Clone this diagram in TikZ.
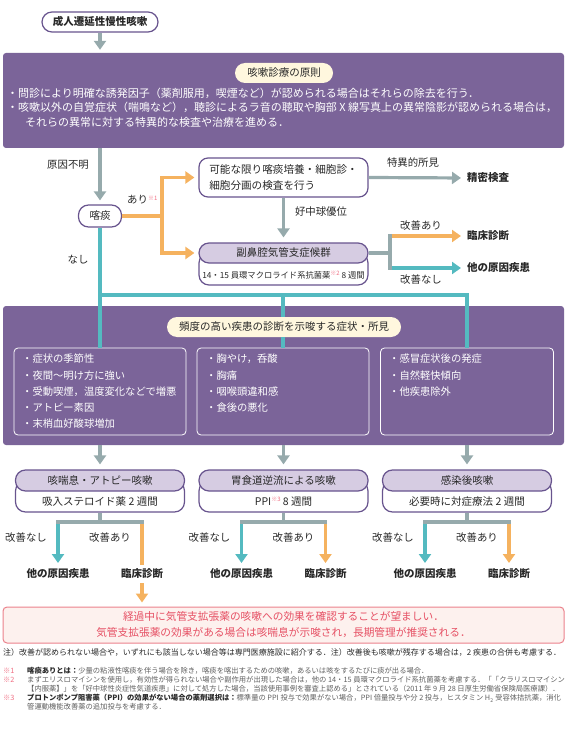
\documentclass[tikz,border=0pt]{standalone}
\usepackage{fontspec}
\setmainfont{Noto Sans CJK JP}
\usetikzlibrary{arrows.meta}
\definecolor{pu}{RGB}{123,100,153}
\definecolor{pb}{RGB}{104,84,142}
\definecolor{ph}{RGB}{214,204,226}
\definecolor{cr}{RGB}{255,247,222}
\definecolor{gy}{RGB}{150,170,172}
\definecolor{og}{RGB}{245,178,95}
\definecolor{tl}{RGB}{84,186,192}
\definecolor{pkf}{RGB}{253,241,238}
\definecolor{pkb}{RGB}{235,130,140}
\definecolor{pkt}{RGB}{230,80,100}
\definecolor{pks}{RGB}{240,110,130}
\definecolor{tx}{RGB}{40,40,40}
\definecolor{fn}{RGB}{95,95,95}
\newcommand\fsz[2]{\fontsize{#1}{#2}\selectfont}
\newcommand\supmark[1]{\raisebox{3.5pt}{\textcolor{pks}{\fsz{6}{6}#1}}}
\tikzset{
 lab/.style={inner sep=0pt, text height=9pt, text depth=1.3pt, text=tx, font=\fsz{10.4}{12}},
 blab/.style={lab, font=\fsz{10.5}{12}\bfseries},
 wt/.style={inner sep=0pt, text height=9pt, text depth=1.3pt, text=white, font=\fsz{10.3}{12}, anchor=west},
 pbox/.style={fill=pu, rounded corners=3pt, inner sep=0pt},
 pill/.style={draw=pb, line width=1.2pt, fill=white, rounded corners=10pt, inner sep=0pt, minimum height=20pt, text=tx, font=\fsz{10.5}{12}},
 wbox/.style={draw=pb, line width=1.2pt, fill=white, inner sep=0pt},
 hbox/.style={draw=pb, line width=1.2pt, fill=ph, inner sep=0pt, rounded corners=10pt, text=tx, font=\fsz{10.5}{12}},
 crpill/.style={fill=cr, rounded corners=10pt, inner sep=0pt, text=tx, font=\fsz{10.5}{12}, minimum height=20pt},
 ib/.style={draw=white, line width=0.8pt, rounded corners=4pt, inner sep=0pt, minimum height=87pt},
 con/.style={line width=3.2pt},
 gl/.style={con, draw=gy},
 ol/.style={con, draw=og},
 tll/.style={con, draw=tl},
 arr/.style={-{Triangle[width=12pt,length=9pt]}},
 fnm/.style={anchor=west, inner sep=0pt, text height=6.5pt, text depth=1pt, text=pks, font=\fsz{7.3}{9}},
 fnt/.style={fnm, text=fn},
}
\begin{document}
\begin{tikzpicture}[x=1pt,y=-1pt]
\useasboundingbox (0,0) rectangle (576,730);
% ---------- big purple boxes
\node[pbox, minimum width=561pt, minimum height=95pt] (p1) at (283.5,100.5) {};
\node[pbox, minimum width=561pt, minimum height=139pt] (p2) at (283.5,375.5) {};
% ---------- top
\node[pill, minimum width=116pt, font=\fsz{10.5}{12}\bfseries] (st) at (100,22) {成人遷延性慢性咳嗽};
\node[crpill, minimum width=98pt] (t1) at (284,73) {咳嗽診療の原則};
\node[wt, font=\fsz{11}{13}] (l1) at (7,94) {・問診により明確な誘発因子（薬剤服用，喫煙など）が認められる場合はそれらの除去を行う．};
\node[wt, font=\fsz{11}{13}] (l2) at (7,108) {・咳嗽以外の自覚症状（喘鳴など），聴診によるラ音の聴取や胸部 X 線写真上の異常陰影が認められる場合は，};
\node[wt, font=\fsz{11}{13}] (l3) at (25,123) {それらの異常に対する特異的な検査や治療を進める．};
% ---------- sputum part
\node[lab] (genin) at (68,165) {原因不明};
\node[pill, minimum width=43pt, minimum height=22pt] (sp) at (100,216) {喀痰};
\node[lab, anchor=west] (ari) at (127,200) {あり\supmark{※1}};
\node[lab] (nashi) at (78,260) {なし};
\node[wbox, rounded corners=9pt, minimum width=169pt, minimum height=39pt, align=left, font=\fsz{10.6}{16}, text=tx] (b1) at (283.5,177.5) {可能な限り喀痰培養・細胞診・\\細胞分画の検査を行う};
\node[lab] (tokui) at (413,163) {特異的所見};
\node[blab, anchor=west] (sei) at (467,178) {精密検査};
\node[lab] (kochu) at (321,212) {好中球優位};
\node[wbox, rounded corners=10pt, minimum width=169pt, minimum height=32pt] (b2s) at (283.5,269) {};
\node[hbox, minimum width=169pt, minimum height=20pt] (b2h) at (283.5,253) {副鼻腔気管支症候群};
\node[lab, font=\fsz{8.3}{10}] (b2t) at (283.5,275) {14・15 員環マクロライド系抗菌薬\supmark{※2} 8 週間};
\node[lab] (kz0) at (421,226) {改善あり};
\node[lab] (kn0) at (421,280) {改善なし};
\node[blab, anchor=west] (rin0) at (467,236) {臨床診断};
\node[blab, anchor=west] (oth0) at (467,268) {他の原因疾患};
% ---------- second purple box
\node[crpill, minimum width=234pt] (t2) at (284,327) {頻度の高い疾患の診断を示唆する症状・所見};
\node[ib, minimum width=172pt] (ib1) at (100,391.5) {};
\node[ib, minimum width=172pt] (ib2) at (283,391.5) {};
\node[ib, minimum width=173pt] (ib3) at (467,391.5) {};
\node[wt] (a1) at (22,359) {・症状の季節性};
\node[wt] (a2) at (22,376) {・夜間〜明け方に強い};
\node[wt] (a3) at (22,392) {・受動喫煙，温度変化などで増悪};
\node[wt] (a4) at (22,408) {・アトピー素因};
\node[wt] (a5) at (22,424) {・末梢血好酸球増加};
\node[wt] (g1) at (206,359) {・胸やけ，呑酸};
\node[wt] (g2) at (206,376) {・胸痛};
\node[wt] (g3) at (206,392) {・咽喉頭違和感};
\node[wt] (g4) at (206,408) {・食後の悪化};
\node[wt] (k1) at (389,359) {・感冒症状後の発症};
\node[wt] (k2) at (389,376) {・自然軽快傾向};
\node[wt] (k3) at (389,392) {・他疾患除外};
% ---------- disease boxes
\node[wbox, rounded corners=10pt, minimum width=169pt, minimum height=31pt] (ds1) at (100,496.5) {};
\node[hbox, minimum width=169pt, minimum height=21pt] (dh1) at (100,480.5) {咳喘息・アトピー咳嗽};
\node[lab, font=\fsz{10.5}{12}] (dt1) at (100,501.5) {吸入ステロイド薬 2 週間};
\node[wbox, rounded corners=10pt, minimum width=169pt, minimum height=31pt] (ds2) at (283.5,496.5) {};
\node[hbox, minimum width=169pt, minimum height=21pt] (dh2) at (283.5,480.5) {胃食道逆流による咳嗽};
\node[lab, font=\fsz{10.5}{12}] (dt2) at (283.5,501.5) {PPI\supmark{※3} 8 週間};
\node[wbox, rounded corners=10pt, minimum width=169pt, minimum height=31pt] (ds3) at (467,496.5) {};
\node[hbox, minimum width=169pt, minimum height=21pt] (dh3) at (467,480.5) {感染後咳嗽};
\node[lab, font=\fsz{10.5}{12}] (dt3) at (467,501.5) {必要時に対症療法 2 週間};
% branch labels
\node[lab] (kn1) at (26,538) {改善なし};
\node[lab] (kz1) at (110,538) {改善あり};
\node[lab] (kn2) at (209.5,538) {改善なし};
\node[lab] (kz2) at (293.5,538) {改善あり};
\node[lab] (kn3) at (393,538) {改善なし};
\node[lab] (kz3) at (477,538) {改善あり};
\node[blab, anchor=north] (o1) at (58,568) {他の原因疾患};
\node[blab, anchor=north] (r1) at (142,568) {臨床診断};
\node[blab, anchor=north] (o2) at (241.5,568) {他の原因疾患};
\node[blab, anchor=north] (r2) at (325.5,568) {臨床診断};
\node[blab, anchor=north] (o3) at (425,568) {他の原因疾患};
\node[blab, anchor=north] (r3) at (509,568) {臨床診断};
% ---------- pink box
\node[draw=pkb, fill=pkf, line width=1pt, rounded corners=4pt, minimum width=561pt, minimum height=36pt, inner sep=0pt, align=center, text=pkt, font=\fsz{10.7}{16}] (pk) at (283.5,625) {経過中に気管支拡張薬の咳嗽への効果を確認することが望ましい．\\気管支拡張薬の効果がある場合は咳喘息が示唆され，長期管理が推奨される．};
\node[anchor=west, inner sep=0pt, text=tx, font=\fsz{8}{10}] (note) at (3,652) {注）改善が認められない場合や，いずれにも該当しない場合等は専門医療施設に紹介する．注）改善後も咳嗽が残存する場合は，2 疾患の合併も考慮する．};
% ---------- footnotes
\node[fnm] (m1) at (3,671) {※1};
\node[fnt] (f1) at (27,671) {{\bfseries\color{tx}喀痰ありとは：}少量の粘液性喀痰を伴う場合を除き，喀痰を喀出するための咳嗽，あるいは咳をするたびに痰が出る場合．};
\node[fnm] (m2) at (3,680) {※2};
\node[fnt] (f2) at (27,680) {まずエリスロマイシンを使用し，有効性が得られない場合や副作用が出現した場合は，他の 14・15 員環マクロライド系抗菌薬を考慮する．「「クラリスロマイシン};
\node[fnt] (f3) at (27,689) {【内服薬】」を「好中球性炎症性気道疾患」に対して処方した場合，当該使用事例を審査上認める」とされている（2011 年 9 月 28 日厚生労働省保険局医療課）．};
\node[fnm] (m3) at (3,698) {※3};
\node[fnt] (f4) at (27,698) {{\bfseries\color{tx}プロトンポンプ阻害薬（PPI）の効果がない場合の薬剤選択は：}標準量の PPI 投与で効果がない場合，PPI 倍量投与や分 2 投与，ヒスタミン H\textsubscript{2} 受容体拮抗薬，消化};
\node[fnt] (f5) at (27,707) {管運動機能改善薬の追加投与を考慮する．};
% ================= connectors
\draw[gl, arr, shorten >=3pt] (st.south) -- (p1.north -| st);
\draw[gl, arr, shorten >=4pt] (p1.south -| sp) -- (sp.north);
\coordinate (ob) at (162,216);
\draw[ol] (sp.east) -- (ob);
\draw[ol, arr, shorten >=4pt] (ob) |- (b1.west);
\draw[ol, arr, shorten >=4pt] (ob) |- (b2h.west);
\draw[gl, arr, shorten >=6pt] (b1.east) -- (sei.west);
\draw[gl, arr, shorten >=5pt] (b1.south) -- (b2h.north);
\coordinate (rj) at (390,253);
\coordinate (rjt) at (390,236);
\coordinate (rjb) at (390,268);
\draw[gl] (b2h.east) -- (rj);
\draw[ol, arr, shorten >=6pt] (rjt) -- (rin0.west);
\draw[tll, arr, shorten >=6pt] (rjb) -- (oth0.west);
\draw[gl, line cap=rect] (rjt) -- (rjb);
% teal distribution
\coordinate (tj) at (100,295);
\draw[tll] (sp.south) -- (ib1.north);
\draw[tll] (tj) -| (ib3.north);
\draw[tll] (tj -| ib2.north) -- (t2.north -| ib2.north);
\draw[tll] (t2.south -| ib2.north) -- (ib2.north);
% to disease boxes
\draw[gl, arr, shorten >=5pt] (p2.south -| dh1) -- (dh1.north);
\draw[gl, arr, shorten >=5pt] (p2.south -| dh2) -- (dh2.north);
\draw[gl, arr, shorten >=5pt] (p2.south -| dh3) -- (dh3.north);
% bottom branches
\coordinate (bj1) at (100,522);
\coordinate (bj2) at (283.5,522);
\coordinate (bj3) at (467,522);
\draw[tll, arr, shorten >=5pt] (bj1 -| o1) -- (o1.north);
\draw[ol, shorten >=3pt] (bj1 -| r1) -- (r1.north);
\draw[gl, line cap=rect] (bj1 -| o1) -- (bj1 -| r1);
\draw[gl] (ds1.south) -- (bj1);
\draw[tll, arr, shorten >=5pt] (bj2 -| o2) -- (o2.north);
\draw[ol, arr, shorten >=5pt] (bj2 -| r2) -- (r2.north);
\draw[gl, line cap=rect] (bj2 -| o2) -- (bj2 -| r2);
\draw[gl] (ds2.south) -- (bj2);
\draw[tll, arr, shorten >=5pt] (bj3 -| o3) -- (o3.north);
\draw[ol, arr, shorten >=5pt] (bj3 -| r3) -- (r3.north);
\draw[gl, line cap=rect] (bj3 -| o3) -- (bj3 -| r3);
\draw[gl] (ds3.south) -- (bj3);
\draw[ol, arr, shorten <=4.5pt, shorten >=4pt] (r1.south) -- (pk.north -| r1);
\end{tikzpicture}
\end{document}
